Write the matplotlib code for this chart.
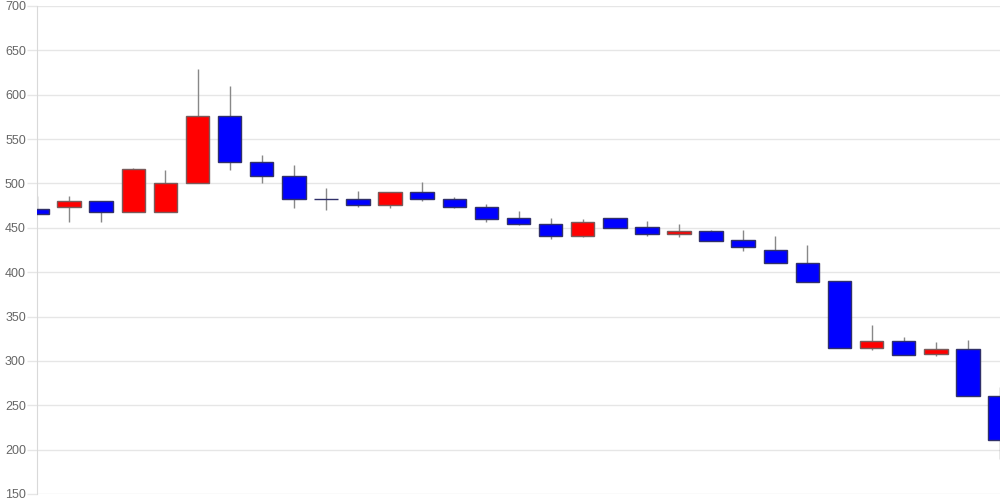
import numpy as np
import matplotlib.pyplot as plt

plt.rcParams['font.family'] = ['Liberation Sans', 'DejaVu Sans']

# daily candles
opens  = [471, 473, 480, 468, 468, 501, 576, 524, 508, 482,
          482, 476, 490, 482, 474, 461, 454, 441, 461, 451,
          443, 446, 436, 425, 410, 390, 315, 323, 308, 313, 260]
closes = [466, 480, 468, 516, 501, 576, 524, 508, 483, 482,
          476, 490, 482, 474, 460, 454, 441, 457, 450, 443,
          446, 435, 428, 410, 389, 315, 323, 307, 313, 260, 211]
highs  = [486, 486, 480, 517, 515, 629, 610, 532, 521, 495,
          492, 490, 502, 485, 477, 469, 461, 460, 461, 458,
          454, 447, 447, 441, 431, 390, 340, 327, 321, 324, 271]
lows   = [466, 457, 457, 468, 468, 501, 515, 500, 472, 470,
          474, 472, 480, 472, 456, 453, 437, 440, 450, 441,
          440, 435, 424, 410, 389, 315, 312, 307, 306, 260, 189]

y_ticks = [150, 200, 250, 300, 350, 400, 450, 500, 550, 600, 650, 700]

o = np.array(opens)
c = np.array(closes)
x = np.arange(len(o))
up = c > o
colors = np.where(up, '#ff0000', '#0000ff')
edges = np.where(up, '#7a5a5a', '#30306a')

fig = plt.figure(figsize=(10, 5), dpi=100)
ax = fig.add_axes([0.037, 0.012, 0.963, 0.976])

ax.vlines(x, lows, highs, color='#888888', linewidth=1, zorder=2)
ax.bar(x, c - o, bottom=o, width=0.73, color=colors, edgecolor=edges,
       linewidth=1, zorder=3)

ax.set_xlim(0, len(o) - 1)
ax.set_ylim(150, 700)
ax.set_yticks(y_ticks)
ax.set_xticks([])
ax.grid(axis='y', color='#e6e6e6', linewidth=1, zorder=0)
ax.set_axisbelow(True)

for s in ['top', 'right', 'bottom']:
    ax.spines[s].set_visible(False)
ax.spines['left'].set_color('#d9d9d9')
ax.tick_params(axis='y', length=7, width=1, color='#e6e6e6', pad=1,
               labelsize=9, labelcolor='#666666')

fig.savefig('out.png')
